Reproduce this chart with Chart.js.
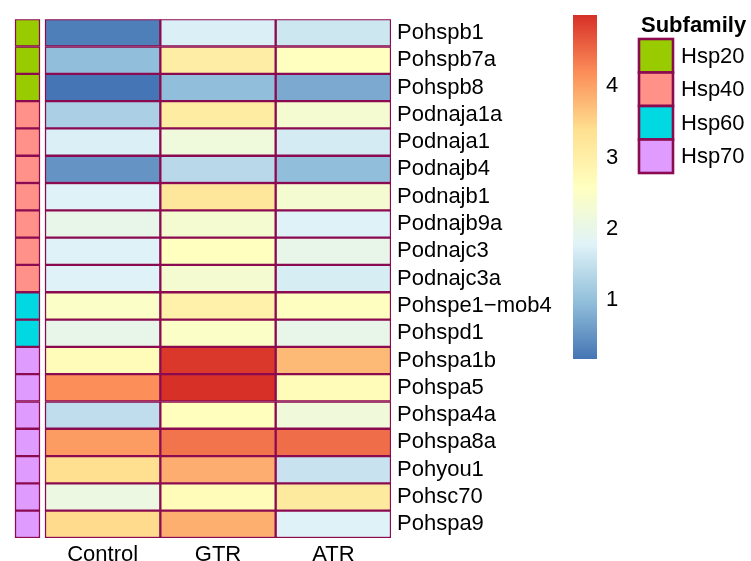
<!DOCTYPE html>
<html>
<head>
<meta charset="utf-8">
<title>Hsp gene expression heatmap</title>
<script src="https://cdn.jsdelivr.net/npm/chart.js@4/dist/chart.umd.min.js"></script>
<style>
  html, body { margin: 0; padding: 0; background: #ffffff; }
  #wrap { position: relative; width: 751px; height: 561px; overflow: hidden; }
  #heat { position: absolute; left: 0; top: 0; }
  #scalebar { position: absolute; left: 560px; top: 0; }
</style>
</head>
<body>
<div id="wrap">
  <canvas id="heat" width="751" height="561"></canvas>
  <canvas id="scalebar" width="80" height="380"></canvas>
</div>
<script>
// Genes (rows, top to bottom) and their subfamily
const genes = ['Pohspb1', 'Pohspb7a', 'Pohspb8', 'Podnaja1a', 'Podnaja1', 'Podnajb4',
  'Podnajb1', 'Podnajb9a', 'Podnajc3', 'Podnajc3a', 'Pohspe1\u2212mob4', 'Pohspd1',
  'Pohspa1b', 'Pohspa5', 'Pohspa4a', 'Pohspa8a', 'Pohyou1', 'Pohsc70', 'Pohspa9'];
const subfamily = ['Hsp20', 'Hsp20', 'Hsp20', 'Hsp40', 'Hsp40', 'Hsp40', 'Hsp40',
  'Hsp40', 'Hsp40', 'Hsp40', 'Hsp60', 'Hsp60', 'Hsp70', 'Hsp70', 'Hsp70', 'Hsp70',
  'Hsp70', 'Hsp70', 'Hsp70'];

// Treatments (columns)
const treatments = ['Control', 'GTR', 'ATR'];

// Expression values per treatment, one per gene
const control = [0.28, 0.98, 0.17, 1.24, 1.72, 0.51, 1.76, 1.98, 1.76, 1.76, 2.49, 1.98, 2.68, 4.19, 1.44, 4.05, 3.39, 2.10, 3.44];
const gtr     = [1.72, 3.05, 0.98, 3.07, 2.17, 1.38, 3.20, 2.33, 2.59, 2.33, 2.95, 2.49, 4.93, 5.00, 2.62, 4.41, 3.88, 2.68, 3.87];
const atr     = [1.59, 2.59, 0.74, 2.33, 1.66, 0.98, 2.33, 1.76, 1.98, 1.68, 2.55, 1.98, 3.76, 2.68, 2.20, 4.47, 1.54, 3.13, 1.76];

// Legend entries and colour-bar tick values
const families = ['Hsp20', 'Hsp40', 'Hsp60', 'Hsp70'];
const scaleTicks = [1, 2, 3, 4];

// ---- styling ----
const FONT = "'Liberation Sans', Arial, sans-serif";
const CELL_BORDER = '#8B0A50';
const familyColor = { Hsp20: '#99CC00', Hsp40: '#FF9188', Hsp60: '#00D9E1', Hsp70: '#E09BFF' };
const ramp = ['#4575B4', '#91BFDB', '#E0F3F8', '#FFFFBF', '#FEE090', '#FC8D59', '#D73027'];

const series = [control, gtr, atr];
const allValues = series.flat();
const vmin = Math.min(...allValues);
const vmax = Math.max(...allValues);

function hexToRgb(h) {
  const n = parseInt(h.slice(1), 16);
  return [(n >> 16) & 255, (n >> 8) & 255, n & 255];
}
const rampRgb = ramp.map(hexToRgb);

function colorFor(v) {
  let t = (v - vmin) / (vmax - vmin);
  t = Math.max(0, Math.min(1, t));
  const p = t * (rampRgb.length - 1);
  const i = Math.min(rampRgb.length - 2, Math.floor(p));
  const f = p - i;
  const a = rampRgb[i], b = rampRgb[i + 1];
  const c = a.map((x, k) => Math.round(x + (b[k] - x) * f));
  return `rgb(${c[0]},${c[1]},${c[2]})`;
}

// x-axis layout: heatmap columns occupy 0..3, annotation strip sits left of 0
const X_MIN = -0.3035;
const ANNOT_FROM = -0.2601;
const ANNOT_TO = -0.0434;
const BORDER_W = 1.5;

const heatDatasets = treatments.map((name, ci) => ({
  label: name,
  data: genes.map(() => [ci, ci + 1]),
  backgroundColor: series[ci].map(colorFor),
  borderColor: CELL_BORDER,
  borderWidth: BORDER_W,
  borderSkipped: false
}));

const annotDataset = {
  label: 'Subfamily',
  data: genes.map(() => [ANNOT_FROM, ANNOT_TO]),
  backgroundColor: subfamily.map(s => familyColor[s]),
  borderColor: CELL_BORDER,
  borderWidth: BORDER_W,
  borderSkipped: false
};

// Subfamily legend drawn beside the colour bar
const subfamilyLegend = {
  id: 'subfamilyLegend',
  afterDraw(chart) {
    const ctx = chart.ctx;
    ctx.save();
    ctx.fillStyle = '#000';
    ctx.font = `bold 22px ${FONT}`;
    ctx.textAlign = 'left';
    ctx.textBaseline = 'alphabetic';
    ctx.fillText('Subfamily', 641, 32);
    const x0 = 639, w = 34, h = 33.5, y0 = 39;
    families.forEach((f, i) => {
      const y = y0 + i * h;
      ctx.fillStyle = familyColor[f];
      ctx.fillRect(x0, y, w, h);
      ctx.strokeStyle = CELL_BORDER;
      ctx.lineWidth = 2.6;
      ctx.strokeRect(x0, y, w, h);
      ctx.fillStyle = '#000';
      ctx.font = `22px ${FONT}`;
      ctx.textBaseline = 'middle';
      ctx.fillText(f, 681, y + h / 2 + 1);
    });
    ctx.restore();
  }
};

new Chart(document.getElementById('heat'), {
  type: 'bar',
  data: { labels: genes, datasets: [annotDataset, ...heatDatasets] },
  options: {
    responsive: false,
    animation: false,
    devicePixelRatio: 1,
    indexAxis: 'y',
    layout: { padding: { left: 10, top: 15, right: 0, bottom: 0 } },
    datasets: { bar: { barPercentage: 1, categoryPercentage: 1, grouped: false } },
    plugins: { legend: { display: false }, tooltip: { enabled: false } },
    scales: {
      x: {
        type: 'linear',
        min: X_MIN,
        max: treatments.length,
        position: 'bottom',
        grid: { display: false, drawTicks: false },
        border: { display: false },
        afterBuildTicks(scale) { scale.ticks = treatments.map((_, i) => ({ value: i + 0.5 })); },
        afterFit(scale) { scale.height = 23; },
        ticks: {
          autoSkip: false, maxRotation: 0, minRotation: 0, padding: 4,
          color: '#000', font: { family: FONT, size: 22 },
          callback: (v, i) => treatments[i]
        }
      },
      y: {
        type: 'category',
        position: 'right',
        grid: { display: false, drawTicks: false },
        border: { display: false },
        afterFit(scale) { scale.width = 360; },
        ticks: { autoSkip: false, padding: 6, color: '#000', font: { family: FONT, size: 22 } }
      }
    }
  },
  plugins: [subfamilyLegend]
});

// Colour bar: one floating bar spanning the data range, filled with the ramp
new Chart(document.getElementById('scalebar'), {
  type: 'bar',
  data: {
    labels: [''],
    datasets: [{
      data: [[vmin, vmax]],
      borderWidth: 0,
      backgroundColor(ctx) {
        const chart = ctx.chart;
        const area = chart.chartArea;
        if (!area) return ramp[3];
        const ys = chart.scales.y;
        const g = chart.ctx.createLinearGradient(0, ys.getPixelForValue(vmin), 0, ys.getPixelForValue(vmax));
        ramp.forEach((c, i) => g.addColorStop(i / (ramp.length - 1), c));
        return g;
      }
    }]
  },
  options: {
    responsive: false,
    animation: false,
    devicePixelRatio: 1,
    layout: { padding: { left: 13, top: 15, right: 0, bottom: 21 } },
    datasets: { bar: { barPercentage: 1, categoryPercentage: 1 } },
    plugins: { legend: { display: false }, tooltip: { enabled: false } },
    scales: {
      x: { display: false },
      y: {
        type: 'linear',
        position: 'right',
        min: vmin,
        max: vmax,
        grid: { display: false, drawTicks: false },
        border: { display: false },
        afterBuildTicks(scale) { scale.ticks = scaleTicks.map(v => ({ value: v })); },
        afterFit(scale) {
          scale.width = 43;
          scale.paddingTop = 0;
          scale.paddingBottom = 0;
        },
        ticks: { padding: 9, color: '#000', font: { family: FONT, size: 22 } }
      }
    }
  }
});
</script>
</body>
</html>
